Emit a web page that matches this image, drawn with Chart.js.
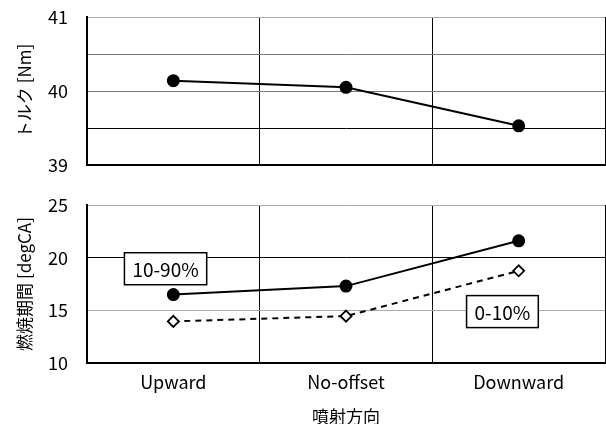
<!DOCTYPE html>
<html>
<head>
<meta charset="utf-8">
<script src="https://cdn.jsdelivr.net/npm/chart.js@4"></script>
<style>
  body { margin: 0; background: #fff; }
  #wrap { position: relative; width: 606px; height: 424px; }
  #topChart { position: absolute; left: 0; top: 0; }
  #bottomChart { position: absolute; left: 0; top: 185px; }
</style>
</head>
<body>
<div id="wrap">
  <canvas id="topChart" width="606" height="185"></canvas>
  <canvas id="bottomChart" width="606" height="239"></canvas>
</div>
<script>
const categories = ["Upward", "No-offset", "Downward"];
const torque = [40.14, 40.05, 39.53];
const burn1090 = [16.5, 17.3, 21.6];
const burn010 = [13.95, 14.45, 18.75];
const torqueTicks = [39, 40, 41];
const burnTicks = [10, 15, 20, 25];
// label boxes: [text, category position, value]
const burnLabels = [
  ["10-90%", -0.045, 18.95],
  ["0-10%", 1.906, 14.88],
];

const FONT = "'Noto Sans CJK JP', 'Noto Sans', sans-serif";
Chart.defaults.font.family = FONT;
Chart.defaults.color = "#000";

const labelBoxes = {
  id: "labelBoxes",
  afterDatasetsDraw(chart, args, opts) {
    if (!opts.items) return;
    const ctx = chart.ctx;
    const xs = chart.scales.x, ys = chart.scales.y;
    ctx.save();
    ctx.font = "19px " + FONT;
    ctx.textAlign = "center";
    ctx.textBaseline = "middle";
    opts.items.forEach(([text, c, v]) => {
      const x = xs.getPixelForValue(c);
      const y = ys.getPixelForValue(v);
      const w = ctx.measureText(text).width + 16;
      const h = 32;
      ctx.fillStyle = "#fff";
      ctx.fillRect(x - w / 2, y - h / 2, w, h);
      ctx.strokeStyle = "#000";
      ctx.lineWidth = 1.5;
      ctx.strokeRect(x - w / 2, y - h / 2, w, h);
      ctx.fillStyle = "#000";
      ctx.fillText(text, x, y + 1);
    });
    ctx.restore();
  },
};

function xAxis(showLabels) {
  return {
    type: "category",
    offset: true,
    grid: {
      offset: true,
      drawTicks: false,
      color: (c) => (c.index === 3 ? "#888" : "#000"),
      lineWidth: 1,
    },
    border: { color: "#000", width: 2 },
    ticks: {
      display: showLabels,
      padding: 8,
      font: { size: 18 },
    },
    title: {
      display: showLabels,
      text: "噴射方向",
      font: { size: 17 },
      padding: { top: 12, bottom: -3 },
    },
    afterFit: (s) => {
      s.height = showLabels ? 61 : 20;
      s.paddingLeft = 0;
      s.paddingRight = 0;
    },
  };
}

function yAxis(min, max, step, tickList, titleText, gridColor) {
  return {
    min: min,
    max: max,
    afterBuildTicks: (s) => {
      const t = [];
      for (let v = min; v <= max + 1e-9; v += step) t.push({ value: +v.toFixed(2) });
      s.ticks = t;
    },
    grid: {
      drawTicks: true,
      tickLength: 19,
      tickColor: "rgba(0,0,0,0)",
      color: gridColor,
      lineWidth: 1,
    },
    border: { color: "#000", width: 2 },
    ticks: {
      padding: 0,
      font: { size: 18 },
      callback: (v) => (tickList.includes(v) ? v : ""),
    },
    title: {
      display: true,
      text: titleText,
      font: { size: 17 },
      padding: { bottom: 0, top: 0 },
    },
    afterFit: (s) => {
      s.width = 73;
    },
  };
}

new Chart(document.getElementById("topChart"), {
  type: "line",
  data: {
    labels: categories,
    datasets: [
      {
        data: torque,
        borderColor: "#000",
        borderWidth: 2,
        pointRadius: 5.5,
        pointBackgroundColor: "#000",
        pointBorderColor: "#000",
      },
    ],
  },
  options: {
    responsive: false,
    animation: false,
    layout: { autoPadding: false, padding: { top: 17, right: 1, left: 14 } },
    plugins: { legend: { display: false }, tooltip: { enabled: false } },
    scales: {
      x: xAxis(false),
      y: yAxis(39, 41, 0.5, torqueTicks, "トルク [Nm]", (c) =>
        c.tick.value === 41 ? "#aaa" : c.tick.value === 39.5 ? "#000" : "#777"
      ),
    },
  },
});

new Chart(document.getElementById("bottomChart"), {
  type: "line",
  data: {
    labels: categories,
    datasets: [
      {
        data: burn1090,
        borderColor: "#000",
        borderWidth: 2,
        pointRadius: 5.5,
        pointBackgroundColor: "#000",
        pointBorderColor: "#000",
      },
      {
        data: burn010,
        borderColor: "#000",
        borderWidth: 2,
        borderDash: [6, 5],
        pointStyle: "rectRot",
        pointRadius: 5.5,
        pointBorderWidth: 1.8,
        pointBackgroundColor: "#fff",
        pointBorderColor: "#000",
      },
    ],
  },
  options: {
    responsive: false,
    animation: false,
    layout: { autoPadding: false, padding: { top: 20, right: 1, left: 14 } },
    plugins: {
      legend: { display: false },
      tooltip: { enabled: false },
      labelBoxes: { items: burnLabels },
    },
    scales: {
      x: xAxis(true),
      y: yAxis(10, 25, 5, burnTicks, "燃焼期間 [degCA]", (c) =>
        c.tick.value === 25 ? "#aaa" : c.tick.value === 15 ? "#aaa" : "#000"
      ),
    },
  },
  plugins: [labelBoxes],
});
</script>
</body>
</html>
